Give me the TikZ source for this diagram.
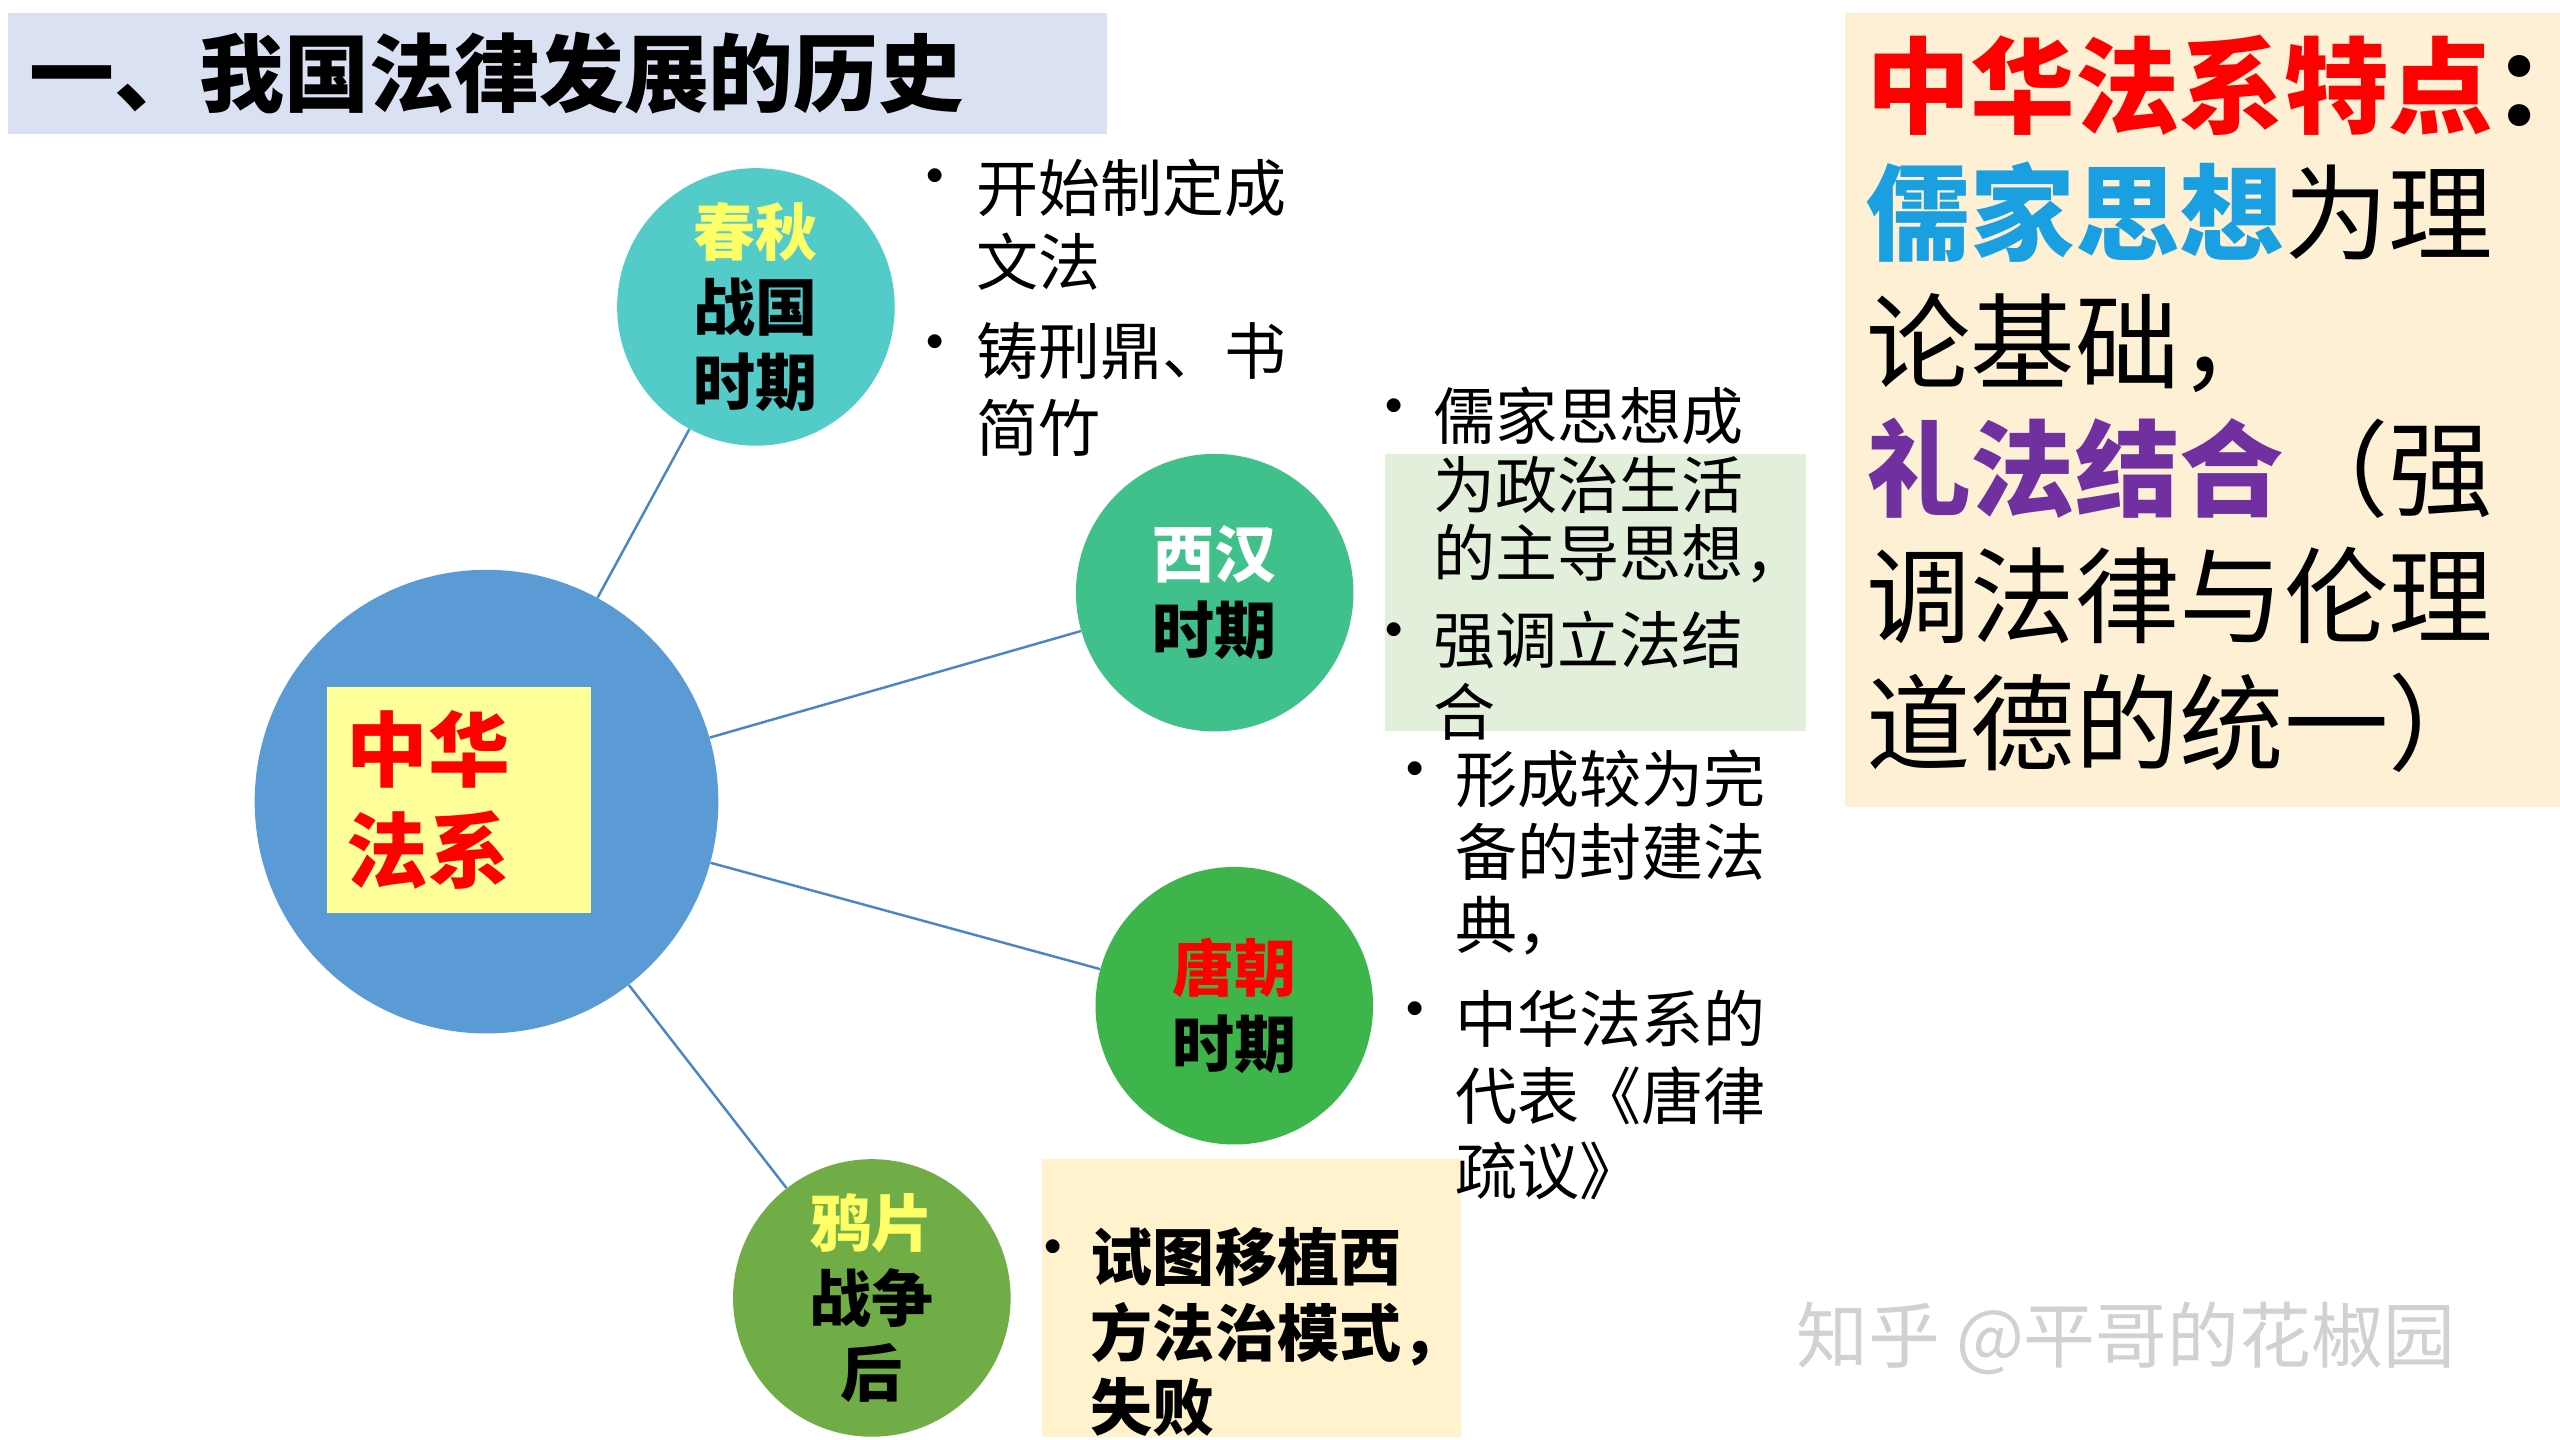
\documentclass[tikz,border=0pt]{standalone}
\usepackage{fontspec}
\setmainfont{Noto Sans CJK SC}
\definecolor{titlebg}{HTML}{D9E1F2}
\definecolor{peach}{HTML}{FDF0D5}
\definecolor{bigblue}{HTML}{5B9BD5}
\definecolor{teal1}{HTML}{52CBC9}
\definecolor{green1}{HTML}{40C08A}
\definecolor{green2}{HTML}{3DB54A}
\definecolor{green3}{HTML}{70AD47}
\definecolor{lightyel}{HTML}{FFFF99}
\definecolor{yeltext}{HTML}{FFFF66}
\definecolor{lightgreen}{HTML}{E2EFDA}
\definecolor{cream}{HTML}{FFF2CC}
\definecolor{linec}{HTML}{4A86C5}
\definecolor{ruc}{HTML}{1AA0E0}
\definecolor{purp}{HTML}{7030A0}
\definecolor{redt}{HTML}{FF0000}
\tikzset{
 era/.style={circle,minimum size=170pt,inner sep=0pt,align=center,font=\fontsize{38}{46}\selectfont\bfseries},
 ln/.style={anchor=west,inner sep=0pt,font=\fontsize{38}{44}\selectfont},
 bl/.style={anchor=center,inner sep=0pt,font=\fontsize{40}{40}\selectfont},
 big/.style={anchor=west,inner sep=0pt,font=\fontsize{64}{70}\selectfont},
 conn/.style={draw=linec,line width=1.5pt}
}
\begin{document}
\begin{tikzpicture}[x=1pt,y=-1pt]
\useasboundingbox[fill=white] (0,0) rectangle (1568,882);
% title
\fill[titlebg] (5,8) rectangle (678,82);
\node[anchor=west,inner sep=0pt,font=\fontsize{52}{56}\selectfont\bfseries] (title) at (18,45) {一、我国法律发展的历史};
% right box
\fill[peach] (1130,8) rectangle (1568,494);
\node[big] (r1) at (1143,52) {\bfseries\textcolor{redt}{中华法系特点}：};
\node[big] (r2) at (1143,130) {\textcolor{ruc}{\bfseries 儒家思想}为理};
\node[big] (r3) at (1143,210) {论基础，};
\node[big] (r4) at (1143,287) {\textcolor{purp}{\bfseries 礼法结合}（强};
\node[big] (r5) at (1143,365) {调法律与伦理};
\node[big] (r6) at (1143,443) {道德的统一）};
% boxes behind text
\fill[lightgreen] (848,278) rectangle (1106,448);
\fill[cream] (638,710) rectangle (895,880);
% circles
\node[era,fill=bigblue,minimum size=284pt] (main) at (298,491) {};
\node[fill=lightyel,minimum width=162pt,minimum height=138pt,inner sep=0pt] (mainbox) at (281,490) {};
\node[anchor=west,inner sep=0pt,align=left,font=\fontsize{50}{62}\selectfont\bfseries,text=redt] (mainlbl) at (212,490) {中华\\法系};
\node[era,fill=teal1] (cq) at (463,188) {\textcolor{yeltext}{春秋}\\战国\\时期};
\node[era,fill=green1] (xh) at (744,363) {\textcolor{white}{西汉}\\时期};
\node[era,fill=green2] (tc) at (756,616) {\textcolor{redt}{唐朝}\\时期};
\node[era,fill=green3] (yp) at (534,795) {\textcolor{yeltext}{鸦片}\\战争\\后};
\draw[conn] (main) -- (cq);
\draw[conn] (main) -- (xh);
\draw[conn] (main) -- (tc);
\draw[conn] (main) -- (yp);
% 春秋 bullets
\node[bl] (b1) at (573,113) {•};
\node[ln] (c1) at (598,115) {开始制定成};
\node[ln] (c2) at (598,160) {文法};
\node[bl] (b2) at (573,215) {•};
\node[ln] (c3) at (598,215) {铸刑鼎、书};
\node[ln] (c4) at (598,262) {简竹};
% 西汉 bullets
\node[bl] (b3) at (854,254) {•};
\node[ln] (x1) at (878,255) {儒家思想成};
\node[ln] (x2) at (878,297) {为政治生活};
\node[ln] (x3) at (878,339) {的主导思想，};
\node[bl] (b4) at (854,391) {•};
\node[ln] (x4) at (878,392) {强调立法结};
\node[ln] (x5) at (878,436) {合};
% 唐朝 bullets
\node[bl] (b5) at (867,476) {•};
\node[ln] (t1) at (891,477) {形成较为完};
\node[ln] (t2) at (891,522) {备的封建法};
\node[ln] (t3) at (891,567) {典，};
\node[bl] (b6) at (867,623) {•};
\node[ln] (t4) at (891,624) {中华法系的};
\node[ln] (t5) at (891,671) {代表《唐律};
\node[ln] (t6) at (891,717) {疏议》};
% 鸦片 bullets
\node[bl] (b7) at (645,769) {•};
\node[ln,font=\fontsize{38}{44}\selectfont\bfseries] (y1) at (668,770) {试图移植西};
\node[ln,font=\fontsize{38}{44}\selectfont\bfseries] (y2) at (668,817) {方法治模式，};
\node[ln,font=\fontsize{38}{44}\selectfont\bfseries] (y3) at (668,862) {失败};
% watermark
\node[anchor=west,inner sep=0pt,text=black!18,font=\fontsize{44}{48}\selectfont] (wm) at (1100,820) {知乎 @平哥的花椒园};
\end{tikzpicture}
\end{document}
